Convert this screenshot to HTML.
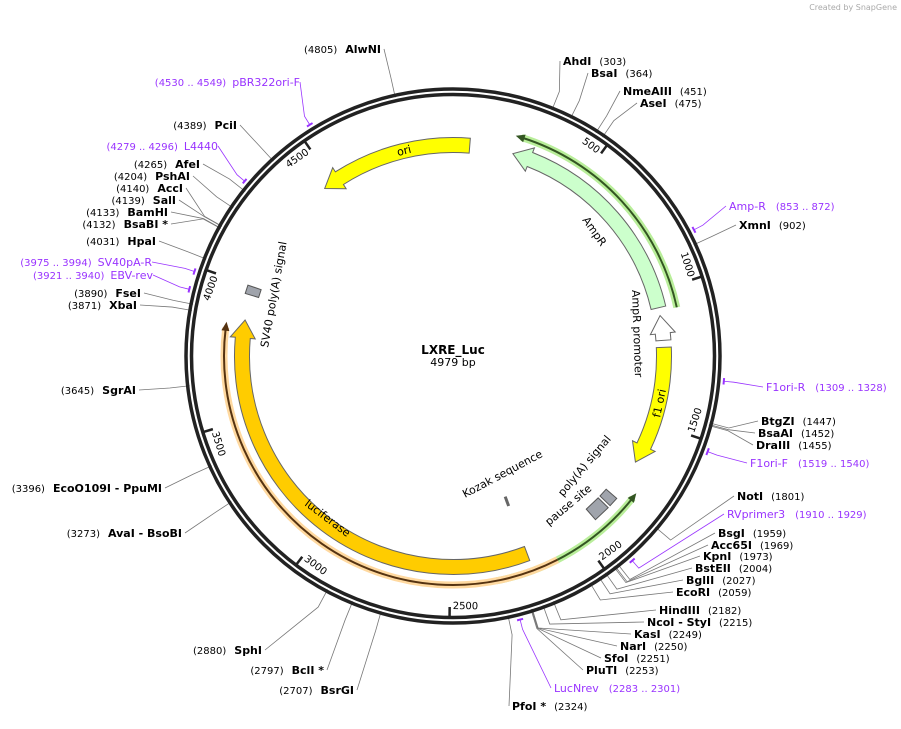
<!DOCTYPE html>
<html><head><meta charset="utf-8"><style>
body{margin:0;background:#fff;}
svg{font-family:"DejaVu Sans","Liberation Sans",sans-serif;}
.en{font-weight:bold;font-size:11px;fill:#000}
.num{font-size:10px;font-weight:normal;fill:#000}
.pr{font-size:11px;fill:#9933ff}
.prn{font-size:10px;fill:#9933ff}
</style></head><body>
<svg id="map" width="901" height="724" viewBox="0 0 901 724" xmlns="http://www.w3.org/2000/svg">
<text x="897" y="10" text-anchor="end" font-size="8" fill="#aaa">Created by SnapGene</text>
<g id="lines"></g>
<circle cx="453" cy="356" r="267" fill="none" stroke="#222" stroke-width="3.5"/>
<circle cx="453" cy="356" r="261.5" fill="none" stroke="#222" stroke-width="3.5"/>
<g id="feats"></g>
<g id="ticks"></g>
<g id="labels"></g>
<text x="453" y="354" text-anchor="middle" font-weight="bold" font-size="12">LXRE_Luc</text>
<text x="453" y="366" text-anchor="middle" font-size="11">4979 bp</text>
<text x="398" y="156" font-size="11" transform="rotate(-14 398 156)">ori</text>
<text x="582" y="220" font-size="11" transform="rotate(55 582 220)">AmpR</text>
<text x="632" y="290" font-size="11" transform="rotate(88 632 290)">AmpR promoter</text>
<text x="660" y="418" font-size="11" transform="rotate(-78 660 418)">f1 ori</text>
<text x="304" y="505" font-size="11" transform="rotate(37 304 505)">luciferase</text>
<text x="268" y="348" font-size="11" transform="rotate(-80 268 348)">SV40 poly(A) signal</text>
<text x="465" y="498" font-size="11" transform="rotate(-28 465 498)">Kozak sequence</text>
<text x="563" y="497" font-size="11" transform="rotate(-50 563 497)">poly(A) signal</text>
<text x="549" y="526" font-size="11" transform="rotate(-40 549 526)">pause site</text>
</svg>
<script>
const NS="http://www.w3.org/2000/svg",CX=453,CY=356,LEN=4979;
// enzymes
const enzNames=["AhdI","BsaI","NmeAIII","AseI","XmnI","BtgZI","BsaAI","DraIII","NotI","BsgI","Acc65I","KpnI","BstEII","BglII","EcoRI","HindIII","NcoI  - StyI","KasI","NarI","SfoI","PluTI","PfoI *","BsrGI","BclI *","SphI","AvaI  - BsoBI","EcoO109I  - PpuMI","SgrAI","XbaI","FseI","HpaI","BsaBI *","BamHI","SalI","AccI","PshAI","AfeI","PciI","AlwNI"];
const enzPos=[303,364,451,475,902,1447,1452,1455,1801,1959,1969,1973,2004,2027,2059,2182,2215,2249,2250,2251,2253,2324,2707,2797,2880,3273,3396,3645,3871,3890,4031,4132,4133,4139,4140,4204,4265,4389,4805];
const enzLabelX=[563,591,623,640,739,761,758,756,737,718,711,703,695,686,676,659,647,634,620,604,586,512,354,324,262,182,162,136,137,141,156,168,168,176,183,190,200,237,381];
const enzLabelY=[62,74,92,104,226,422,434,446,497,534,546,557,569,581,593,611,623,635,647,659,671,707,691,671,651,534,489,391,306,294,242,225,213,201,189,177,165,126,50];
// primers
const prNames=["pBR322ori-F","L4440","SV40pA-R","EBV-rev","Amp-R","F1ori-R","F1ori-F","RVprimer3","LucNrev"];
const prStart=[4530,4279,3975,3921,853,1309,1519,1910,2283];
const prEnd=[4549,4296,3994,3940,872,1328,1540,1929,2301];
const prLabelX=[223,183,96,104,729,766,750,727,554];
const prLabelY=[83,147,263,276,207,388,464,515,689];
// features
const ftName=["ori","AmpR","AmpR-promoter","f1-ori","luciferase"];
const ftTail=[63,1062,1186,1212,2205];
const ftTip=[4461,228,1092,1662,3870];
const ftFill=["#ffff00","#ccffcc","#ffffff","#ffff00","#ffcc00"];
const boxName=["polya-signal","pause-site","sv40-polya-signal"];
const boxStart=[1812,1858,3966];
const boxEnd=[1848,1922,3998];
const arcName=["ampr-outer-arc","primer-green-arc","luciferase-outer-arc"];
const arcTail=[1075,2338,2114];
const arcTip=[220,1754,3853];
const arcGlow=["#b9ee9a","#b9ee9a","#ffd9a0"];
const arcLine=["#335522","#335522","#553311"];

const ang=p=>p/LEN*2*Math.PI;
const pt=(r,a)=>[CX+r*Math.sin(a),CY-r*Math.cos(a)];
function el(t,a,parent,name){const e=document.createElementNS(NS,t);for(const k in a)e.setAttribute(k,a[k]);


document.getElementById(parent).appendChild(e);return e;}
function sweep(tail,tip){let d=tip-tail;if(d>LEN/2)d-=LEN;if(d<-LEN/2)d+=LEN;return d;}
function arcPath(r,a1,a2){const [x1,y1]=pt(r,a1),[x2,y2]=pt(r,a2);const large=Math.abs(a2-a1)>Math.PI?1:0;const sw=a2>a1?1:0;return `M${x1} ${y1}A${r} ${r} 0 ${large} ${sw} ${x2} ${y2}`;}
function arrowPath(tail,tip,r,w,hl){const d=sweep(tail,tip),s=Math.sign(d);const a1=ang(tail),a2=a1+ang(d);const ah=a2-s*hl/r;
const ro=r+w/2,ri=r-w/2;const [ox1,oy1]=pt(ro,a1),[ox2,oy2]=pt(ro,ah),[ix1,iy1]=pt(ri,a1),[ix2,iy2]=pt(ri,ah);
const [hx1,hy1]=pt(ro+5,ah),[hx2,hy2]=pt(ri-5,ah),[tx,ty]=pt(r,a2);const large=Math.abs(ah-a1)>Math.PI?1:0;const sw=ah>a1?1:0;
return `M${ix1} ${iy1}L${ox1} ${oy1}A${ro} ${ro} 0 ${large} ${sw} ${ox2} ${oy2}L${hx1} ${hy1}L${tx} ${ty}L${hx2} ${hy2}L${ix2} ${iy2}A${ri} ${ri} 0 ${large} ${1-sw} ${ix1} ${iy1}Z`;}
// features
ftName.forEach((n,i)=>{el('path',{d:arrowPath(ftTail[i],ftTip[i],211,15,18),fill:ftFill[i],stroke:'#666','stroke-width':1},'feats',n+'-arrow');});
boxName.forEach((n,i)=>{const a1=ang(boxStart[i]),a2=ang(boxEnd[i]);const [a,b]=pt(203,a1),[c,d]=pt(217,a1),[e,f]=pt(217,a2),[g,h]=pt(203,a2);
el('path',{d:`M${a} ${b}L${c} ${d}L${e} ${f}L${g} ${h}Z`,fill:'#a0a4ac',stroke:'#555','stroke-width':1},'feats',n+'-box');});
{const a=ang(2208);const [x1,y1]=pt(150,a),[x2,y2]=pt(160,a);el('line',{x1,y1,x2,y2,stroke:'#666','stroke-width':3},'feats','kozak-sequence-mark');}
arcName.forEach((n,i)=>{const d=sweep(arcTail[i],arcTip[i]),s=Math.sign(d);const a1=ang(arcTail[i]),a2=a1+ang(d);
el('path',{d:arcPath(229,a1,a2-s*6/229),fill:'none',stroke:arcGlow[i],'stroke-width':7},'feats',n+'-glow');
el('path',{d:arcPath(229,a1,a2-s*6/229),fill:'none',stroke:arcLine[i],'stroke-width':2},'feats',n);
const [tx,ty]=pt(229,a2),[p1x,p1y]=pt(233,a2-s*9/229),[p2x,p2y]=pt(225,a2-s*9/229);
el('path',{d:`M${tx} ${ty}L${p1x} ${p1y}L${p2x} ${p2y}Z`,fill:arcLine[i]},'feats',n+'-head');});
// ticks
for(let k=1;k<=9;k++){const p=500*k,a=ang(p);const [x1,y1]=pt(262,a),[x2,y2]=pt(251,a);
el('line',{x1,y1,x2,y2,stroke:'#222','stroke-width':2.5},'ticks','tick-'+p);
let deg=a*180/Math.PI;if(deg>270)deg-=360;else if(deg>90)deg-=180;
const half=(String(p).length*6.4)/2+3;
const [lx,ly]=pt(251,a-half/251);const t=el('text',{x:lx,y:ly,'text-anchor':'middle','dominant-baseline':'central','font-size':10,transform:`rotate(${deg} ${lx} ${ly})`},'ticks','tick-label-'+p);t.textContent=p;}
// enzymes
enzNames.forEach((n,i)=>{const a=ang(enzPos[i]);const right=enzPos[i]<2400;const [x1,y1]=pt(265,a),[x2,y2]=pt(285,a);
const lx=enzLabelX[i],ly=enzLabelY[i]+3;const ex=right?lx-3:lx+3;
el('path',{d:`M${x1} ${y1}L${x2} ${y2}L${ex} ${ly-4}`,fill:'none',stroke:'#777','stroke-width':0.8},'lines','enzyme-line-'+i);
const t=el('text',{x:lx,y:ly,'text-anchor':right?'start':'end',class:'en'},'labels','enzyme-'+n.toLowerCase().replace(/[^a-z0-9]+/g,'-'));
if(right){t.innerHTML=`${n}<tspan class="num" dx="8">(${enzPos[i]})</tspan>`;}
else{t.innerHTML=`<tspan class="num">(${enzPos[i]})</tspan><tspan dx="8">${n}</tspan>`;}});
// primers
prNames.forEach((n,i)=>{const a1=ang(prStart[i]),a2=ang(prEnd[i]),am=(a1+a2)/2;const right=prStart[i]<2400;
el('path',{d:arcPath(272,a1,a2),fill:'none',stroke:'#9933ff','stroke-width':2},'lines','primer-mark-'+i);
const [x1,y1]=pt(272,am),[x2,y2]=pt(282,am);const lx=prLabelX[i],ly=prLabelY[i]+3;
el('path',{d:`M${x1} ${y1}L${x2} ${y2}L${right?lx-3:lx+( n.length*7)} ${ly-4}`,fill:'none',stroke:'#9933ff','stroke-width':0.8},'lines','primer-line-'+i);
const t=el('text',{x:lx,y:ly,class:'pr'},'labels','primer-'+n.toLowerCase());
const rng=`(${prStart[i]} .. ${prEnd[i]})`;
if(right){t.innerHTML=`${n}<tspan class="prn" dx="10">${rng}</tspan>`;}
else{t.setAttribute('text-anchor','end');t.setAttribute('x',lx+n.length*7);t.innerHTML=`<tspan class="prn">${rng}</tspan><tspan dx="6">${n}</tspan>`;}});
</script>
</body></html>
